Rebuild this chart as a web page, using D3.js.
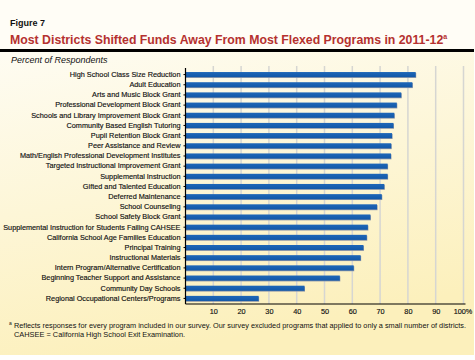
<!DOCTYPE html>
<html><head><meta charset="utf-8">
<script src="https://cdn.jsdelivr.net/npm/d3@7"></script>
<style>body{margin:0;background:#fff}svg{display:block;font-family:"Liberation Sans",Arial,sans-serif}</style>
</head><body><svg id="c" width="475" height="360"></svg>
<script>
const categories = [
  "High School Class Size Reduction",
  "Adult Education",
  "Arts and Music Block Grant",
  "Professional Development Block Grant",
  "Schools and Library Improvement Block Grant",
  "Community Based English Tutoring",
  "Pupil Retention Block Grant",
  "Peer Assistance and Review",
  "Math/English Professional Development Institutes",
  "Targeted Instructional Improvement Grant",
  "Supplemental Instruction",
  "Gifted and Talented Education",
  "Deferred Maintenance",
  "School Counseling",
  "School Safety Block Grant",
  "Supplemental Instruction for Students Failing CAHSEE",
  "California School Age Families Education",
  "Principal Training",
  "Instructional Materials",
  "Intern Program/Alternative Certification",
  "Beginning Teacher Support and Assistance",
  "Community Day Schools",
  "Regional Occupational Centers/Programs"
];
const values = [82.8, 81.6, 77.6, 76.0, 75.1, 74.8, 74.3, 74.0, 73.9, 72.7, 72.7, 71.5, 70.6, 68.9, 66.5, 65.6, 65.2, 64.0, 63.0, 60.5, 55.5, 42.8, 26.3];
const tickValues = [10, 20, 30, 40, 50, 60, 70, 80, 90, 100];
const tickLabels = ["10", "20", "30", "40", "50", "60", "70", "80", "90", "100%"];

const svg = d3.select("#c");
const defs = svg.append("defs");
const g1 = defs.append("linearGradient").attr("id","bg").attr("x1",0).attr("y1",0).attr("x2",0.3).attr("y2",1);
g1.append("stop").attr("offset","0%").attr("stop-color","#fefcf2");
g1.append("stop").attr("offset","100%").attr("stop-color","#fcf0bc");
const bs = defs.append("linearGradient").attr("id","bar").attr("x1",0).attr("y1",0).attr("x2",0).attr("y2",1);
bs.append("stop").attr("offset","0%").attr("stop-color","#1f67b8");
bs.append("stop").attr("offset","100%").attr("stop-color","#1258a8");

svg.append("rect").attr("x",0).attr("y",0).attr("width",475).attr("height",52).attr("fill","#fffdf6");
svg.append("rect").attr("x",0).attr("y",52).attr("width",474).attr("height",303).attr("fill","url(#bg)");

svg.append("text").attr("x",10).attr("y",26).attr("font-size",9).attr("font-weight","bold").attr("fill","#111").text("Figure 7");
const t = svg.append("text").attr("x",10).attr("y",44).attr("font-size",12.3).attr("font-weight","bold").attr("fill","#b5312f")
  .text("Most Districts Shifted Funds Away From Most Flexed Programs in 2011-12");
t.append("tspan").attr("font-size",7).attr("dy",-5).text("a");
svg.append("rect").attr("x",0).attr("y",49).attr("width",474).attr("height",3).attr("fill","#000");
svg.append("text").attr("x",11).attr("y",63).attr("font-size",9).attr("font-style","italic").attr("fill","#111").text("Percent of Respondents");

const x = d3.scaleLinear().domain([0,100]).range([185.5,463.5]);
const y = d3.scaleBand().domain(categories).range([69.5,303.5]).paddingInner(0.5).paddingOuter(0.25);

// gridlines
svg.append("g").selectAll("line").data(tickValues).join("line")
  .attr("x1",d=>x(d)).attr("x2",d=>x(d)).attr("y1",66).attr("y2",304)
  .attr("stroke","#d6d6d2").attr("stroke-width",1.5);

// bars
const bars = svg.append("g");
bars.selectAll("rect.s").data(values).join("rect").attr("class","s")
  .attr("x",x(0)).attr("y",(d,i)=>y(categories[i])+0.8).attr("width",d=>x(d)-x(0)+0.5).attr("height",y.bandwidth())
  .attr("fill","#8a94a8");
bars.selectAll("rect.b").data(values).join("rect").attr("class","b")
  .attr("x",x(0)).attr("y",(d,i)=>y(categories[i])).attr("width",d=>x(d)-x(0)).attr("height",y.bandwidth())
  .attr("fill","url(#bar)");

// y axis
const ya = svg.append("g").attr("transform",`translate(${x(0)},0)`)
  .call(d3.axisLeft(y).tickSize(2).tickPadding(3));
ya.select(".domain").attr("stroke","#000").attr("stroke-width",1.2).attr("d","M0,68V304");
ya.selectAll(".tick line").attr("stroke","#000");
ya.selectAll("text").attr("font-size",7.3).attr("fill","#111").attr("stroke","#111").attr("stroke-width",0.15)
  .attr("font-family","'Liberation Sans',Arial,sans-serif");

// x axis
const xa = svg.append("g").attr("transform","translate(0,304)")
  .call(d3.axisBottom(x).tickValues(tickValues).tickFormat((d,i)=>tickLabels[i]).tickSize(0).tickPadding(5));
xa.select(".domain").attr("stroke","#000").attr("stroke-width",1.2).attr("d",`M${x(0)},0H${x(100)+2}`);
xa.selectAll("text").attr("font-size",7.3).attr("fill","#111").attr("stroke","#111").attr("stroke-width",0.15)
  .attr("font-family","'Liberation Sans',Arial,sans-serif");
xa.selectAll(".tick").filter(d=>d===100).select("text").attr("dx",-1);

svg.append("text").attr("x",9).attr("y",325).attr("font-size",5).attr("fill","#111").text("a");
svg.append("text").attr("x",14).attr("y",328).attr("font-size",7.4).attr("fill","#111")
  .attr("textLength",452).attr("lengthAdjust","spacingAndGlyphs")
  .text("Reflects responses for every program included in our survey. Our survey excluded programs that applied to only a small number of districts.");
svg.append("text").attr("x",14).attr("y",337).attr("font-size",7.4).attr("fill","#111").text("CAHSEE = California High School Exit Examination.");
</script></body></html>
